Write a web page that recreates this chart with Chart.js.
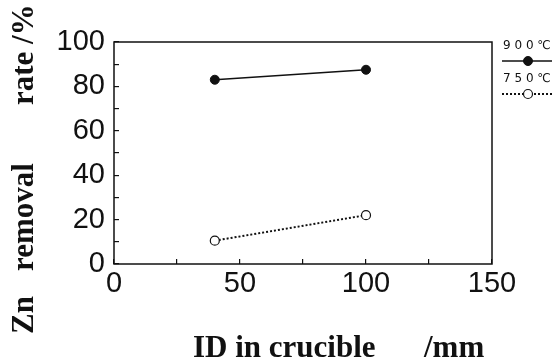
<!DOCTYPE html>
<html>
<head>
<meta charset="utf-8">
<script src="https://cdn.jsdelivr.net/npm/chart.js@4.4.0/dist/chart.umd.min.js"></script>
<style>
  html, body { margin: 0; padding: 0; background: #fff; }
  #wrap { width: 554px; height: 364px; }
</style>
</head>
<body>
<div id="wrap"><canvas id="chart" width="554" height="364"></canvas></div>
<script>
// crucible inner diameter (mm) and Zn removal rate (%)
const idMm = [40, 100];
const rate900 = [83, 87.5];
const rate750 = [10.5, 22];
const seriesLabels = ['900\u2103', '750\u2103'];

const xTicks = [0, 50, 100, 150];
const yTicks = [0, 20, 40, 60, 80, 100];

const tickFont = { family: '"Liberation Sans", Arial, sans-serif', size: 29 };
const titleFont = '"Liberation Serif", "Times New Roman", serif';

function toPoints(xs, ys) {
    return xs.map((x, i) => ({ x: x, y: ys[i] }));
}

// frame, axis titles and the little legend on the right
const decorations = {
    id: 'decorations',
    afterDraw(chart) {
        const ctx = chart.ctx;
        const a = chart.chartArea;
        ctx.save();
        ctx.strokeStyle = '#111';
        ctx.lineWidth = 1.5;
        ctx.strokeRect(a.left, a.top, a.right - a.left, a.bottom - a.top);

        // y title, written bottom to top
        ctx.fillStyle = '#111';
        ctx.font = 'bold 31px ' + titleFont;
        ctx.textAlign = 'left';
        ctx.textBaseline = 'alphabetic';
        ctx.translate(33, 0);
        ctx.rotate(-Math.PI / 2);
        ctx.fillText('Zn', -334, 0);
        ctx.fillText('removal', -271, 0);
        ctx.fillText('rate /%', -105, 0);
        ctx.restore();

        // x title
        ctx.save();
        ctx.fillStyle = '#111';
        ctx.font = 'bold 31px ' + titleFont;
        ctx.textAlign = 'left';
        ctx.textBaseline = 'alphabetic';
        ctx.fillText('ID in crucible', 193, 357);
        ctx.fillText('/mm', 424, 357);
        ctx.restore();

        // legend
        ctx.save();
        const x0 = 502, w = 50;
        chart.data.datasets.forEach((ds, i) => {
            const ty = 46 + i * 33;
            const ly = ty + 15;
            ctx.fillStyle = '#111';
            ctx.font = '12px "DejaVu Sans", sans-serif';
            ctx.textAlign = 'left';
            ctx.textBaseline = 'middle';
            ctx.fillText(ds.label.split('').join(' '), x0 + 1, ty);
            ctx.strokeStyle = '#111';
            ctx.lineWidth = ds.borderWidth;
            ctx.setLineDash(ds.borderDash || []);
            ctx.beginPath();
            ctx.moveTo(x0, ly);
            ctx.lineTo(x0 + w, ly);
            ctx.stroke();
            ctx.setLineDash([]);
            ctx.beginPath();
            ctx.arc(x0 + 26, ly, ds.pointRadius, 0, Math.PI * 2);
            ctx.fillStyle = ds.pointBackgroundColor;
            ctx.fill();
            ctx.lineWidth = ds.pointBorderWidth;
            ctx.stroke();
        });
        ctx.restore();
    }
};

new Chart(document.getElementById('chart'), {
    type: 'line',
    data: {
        datasets: [
            {
                label: seriesLabels[0],
                data: toPoints(idMm, rate900),
                borderColor: '#111',
                borderWidth: 1.6,
                pointRadius: 4.5,
                pointBackgroundColor: '#111',
                pointBorderColor: '#111',
                pointBorderWidth: 1,
                showLine: true
            },
            {
                label: seriesLabels[1],
                data: toPoints(idMm, rate750),
                borderColor: '#111',
                borderWidth: 2,
                borderDash: [2, 2],
                pointRadius: 4.5,
                pointBackgroundColor: '#fff',
                pointBorderColor: '#111',
                pointBorderWidth: 1.2,
                showLine: true
            }
        ]
    },
    options: {
        responsive: false,
        animation: false,
        layout: { padding: { top: 42, right: 62, left: 0, bottom: 0 } },
        plugins: {
            legend: { display: false },
            tooltip: { enabled: false }
        },
        scales: {
            x: {
                type: 'linear',
                min: 0,
                max: 150,
                afterFit(scale) { scale.height = 100; },
                afterBuildTicks(scale) {
                    scale.ticks = [0, 25, 50, 75, 100, 125, 150].map(v => ({ value: v }));
                },
                border: { display: false },
                grid: { drawOnChartArea: false, drawTicks: true, tickLength: -5, color: '#111', lineWidth: 1.2 },
                ticks: {
                    color: '#111',
                    font: tickFont,
                    padding: 8,
                    maxRotation: 0,
                    autoSkip: false,
                    callback: v => xTicks.includes(v) ? String(v) : ''
                }
            },
            y: {
                min: 0,
                max: 100,
                afterFit(scale) { scale.width = 114; },
                afterBuildTicks(scale) {
                    scale.ticks = [0, 10, 20, 30, 40, 50, 60, 70, 80, 90, 100].map(v => ({ value: v }));
                },
                border: { display: false },
                grid: { drawOnChartArea: false, drawTicks: true, tickLength: -5, color: '#111', lineWidth: 1.2 },
                ticks: {
                    color: '#111',
                    font: tickFont,
                    padding: 14,
                    autoSkip: false,
                    callback: v => yTicks.includes(v) ? String(v) : ''
                }
            }
        }
    },
    plugins: [decorations]
});
</script>
</body>
</html>
